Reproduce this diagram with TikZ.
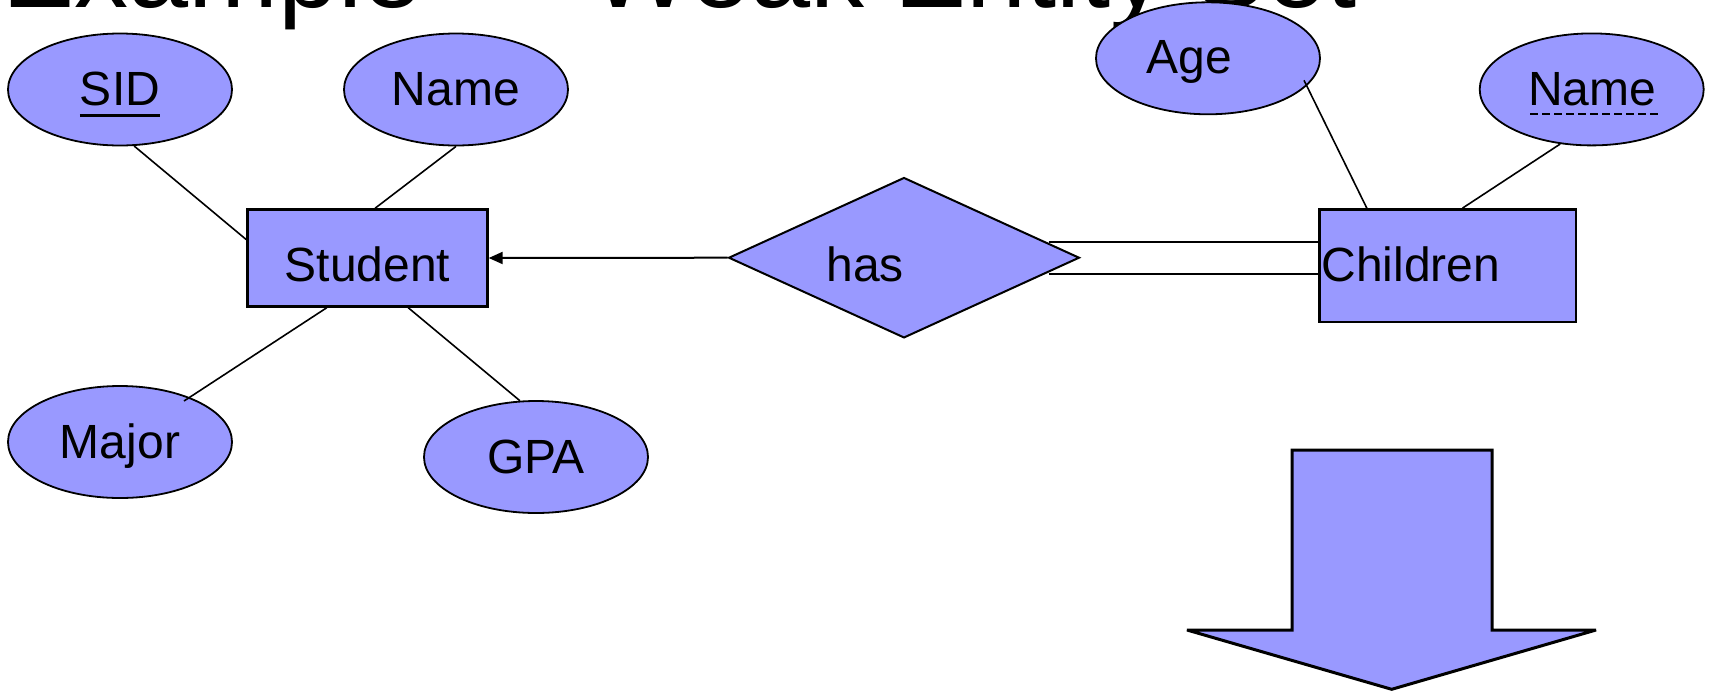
\documentclass[tikz,border=0pt]{standalone}
\usepackage{fontspec}
\setmainfont{Liberation Sans}
\usetikzlibrary{shapes.geometric,arrows.meta,calc}
\definecolor{erfill}{HTML}{9999FF}

% solid underline for a key attribute
\newcommand\solidul[1]{\setbox0\hbox{#1}\rlap{\rule[-5.5pt]{\wd0}{1.1pt}}\box0}
% dashed underline for a partial key
\newcommand\dashul[1]{\setbox0\hbox{#1}\rlap{\raisebox{-4.8pt}{\hbox to \wd0{\leaders\hbox to 6pt{\hfil\rule{3.6pt}{1.1pt}\hfil}\hfill}}}\box0}

\begin{document}
\begin{tikzpicture}[x=0.5pt, y=-0.5pt,
  attr/.style={ellipse, draw, line width=0.9pt, fill=erfill,
    minimum width=112pt, minimum height=56pt, inner sep=0pt,
    text height=16pt, text depth=0pt, font=\fontsize{24}{28}\selectfont},
  entity/.style={rectangle, draw, line width=1.2pt, fill=erfill, inner sep=0pt},
  rel/.style={diamond, draw, line width=1pt, fill=erfill, inner sep=0pt,
    minimum width=175.4pt, minimum height=80.2pt},
  lbl/.style={inner sep=0pt, anchor=base, font=\fontsize{24}{28}\selectfont},
  link/.style={line width=0.8pt},
  bigarrow/.style={draw, line width=1.5pt, fill=erfill, line join=miter, miter limit=2}]

\useasboundingbox (0,0) rectangle (1710,692);
\fill[white] (0,0) rectangle (1710,692);
\clip (0,0) rectangle (1710,692);

% slide title, mostly above the visible area
\node[anchor=base west, inner sep=0pt, font=\fontsize{54}{60}\selectfont] (title)
  at (2,7) {Example — Weak Entity Set};

% attributes
\node[attr] (sid)   at (120,89.5)   {\solidul{SID}};
\node[attr] (sname) at (456,89.5)   {Name};
\node[attr] (major) at (120,442)    {Major};
\node[attr] (gpa)   at (536,457)    {GPA};
\node[attr] (age)   at (1208,58.3)  {};
\node[lbl]  (agetxt) at (1189,73)   {Age};
\node[attr] (cname) at (1591.7,89.4) {\hspace*{7pt}\dashul{Name\ }};

% entity sets and relationship
\node[entity, minimum width=120pt, minimum height=48.5pt] (student) at (367.5,258) {};
\node[lbl] (studenttxt) at (367.5,281.7) {Student};
\node[rel] (has) at (904,257.7) {};
\node[lbl] (hastxt) at (865.3,281.7) {has};
\node[entity, minimum width=128.2pt, minimum height=56.2pt] (children) at (1447.8,265.5) {};
\node[lbl, anchor=base west] (childrentxt) at (1321,281.7) {Children};

% attribute links
\draw[link] (sid.-76) -- ($(student.north west)!0.315!(student.south west)$);
\draw[link] (sname.south) -- ($(student.north west)!0.531!(student.north east)$);
\draw[link] ($(major.center)+(64,-41)$) -- ($(student.south west)!0.332!(student.south east)$);
\draw[link] (gpa.106) -- ($(student.south west)!0.668!(student.south east)$);
\draw[link] ($(age.center)+(96,22)$) -- ($(children.north west)!0.187!(children.north east)$);
\draw[link] (cname.-120) -- ($(children.north west)!0.557!(children.north east)$);

% many-to-one arrow into Student
\draw[line width=1pt, -{Triangle[length=7pt,width=6pt]}] (has.west) -- (student.east);

% total participation of the weak entity set
\coordinate (dbtop) at ($(has.east)+(-31.7,-16)$);
\coordinate (dbbot) at ($(has.east)+(-31.7,16)$);
\draw[link] (dbtop) -- (dbtop -| children.west);
\draw[link] (dbbot) -- (dbbot -| children.west);

% block arrow
\path[bigarrow] (1292,450) -- (1492,450) -- (1492,630) -- (1596,630)
  -- (1391.7,689.3) -- (1187,630) -- (1292,630) -- cycle;
\end{tikzpicture}
\end{document}
